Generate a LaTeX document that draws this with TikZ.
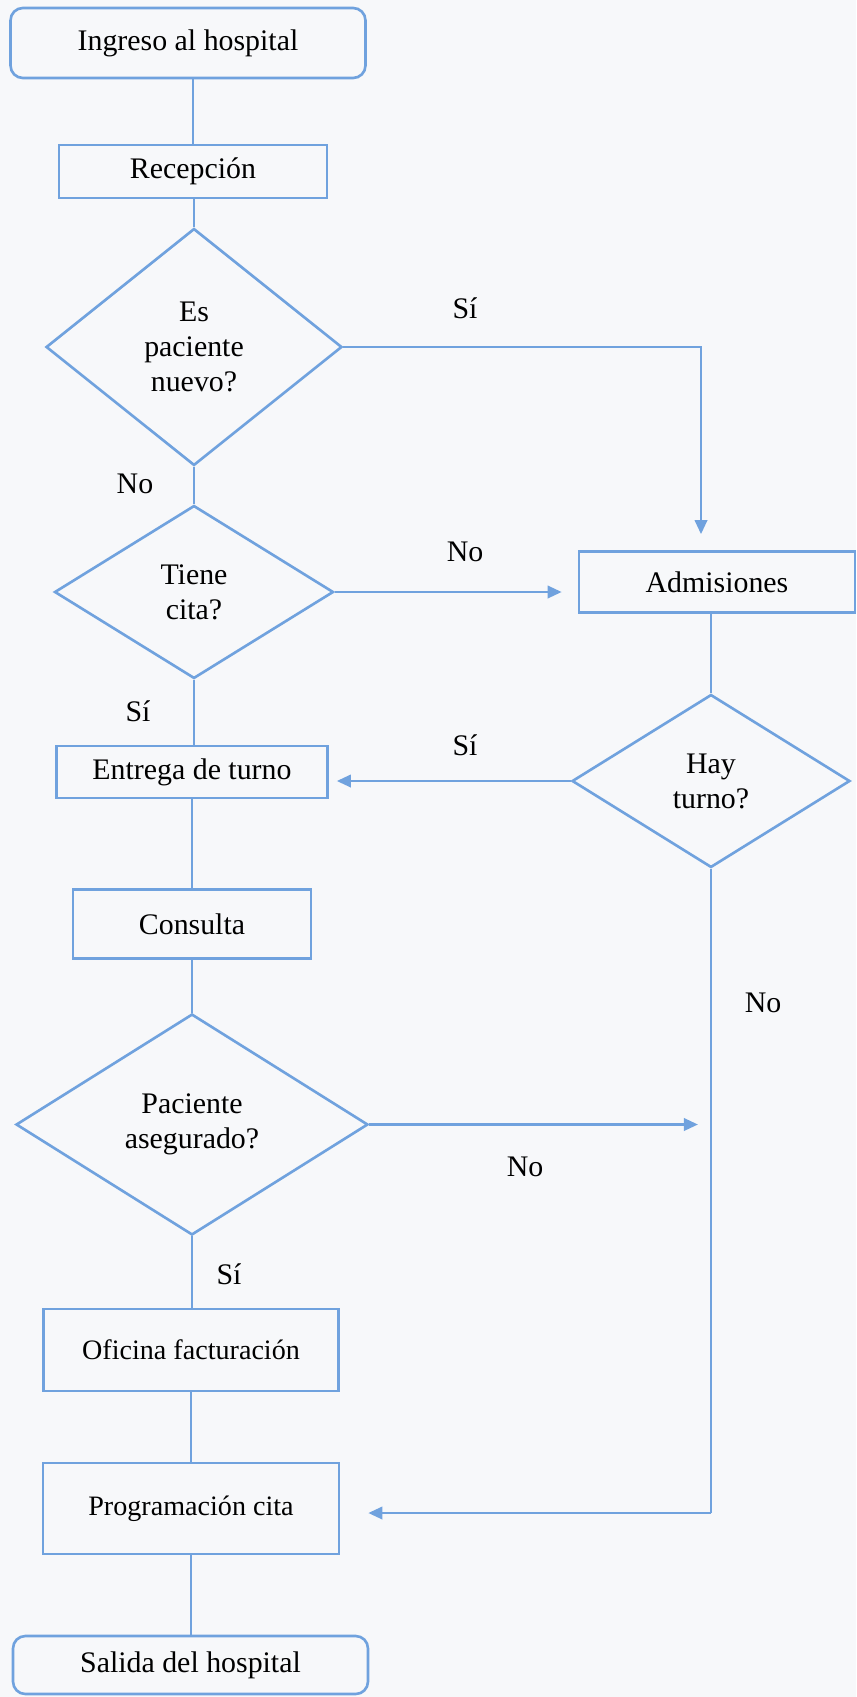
\documentclass[tikz,border=0pt]{standalone}
\usepackage{fontspec}
\setmainfont{Liberation Serif}
\usetikzlibrary{shapes.geometric, arrows.meta}

\definecolor{azul}{RGB}{112,162,222}
\definecolor{fondo}{RGB}{247,248,250}

\tikzset{
  base/.style={draw=azul, line width=1.5pt, inner sep=0pt, align=center,
    font=\fontsize{17}{20}\selectfont},
  caja/.style={base, rectangle},
  extremo/.style={base, rectangle, rounded corners=7pt},
  decision/.style={base, diamond},
  etiqueta/.style={font=\fontsize{17}{20}\selectfont},
  linea/.style={azul, line width=0.8pt},
  flecha/.style={azul, line width=1.5pt, -{Triangle[length=8pt, width=7pt]}}
}

\begin{document}
\begin{tikzpicture}[x=0.02cm, y=-0.02cm]
\path[use as bounding box, fill=fondo] (0,0) rectangle (856,1697);

% columna izquierda
\node[extremo, minimum width=7.1cm, minimum height=1.4cm] (ingreso) at (188,43) {Ingreso al hospital};
\node[caja, minimum width=5.36cm, minimum height=1.06cm] (recep) at (193,171.5) {Recepción};
\node[decision, minimum width=5.92cm, minimum height=4.74cm] (nuevo) at (194,347) {Es\\paciente\\nuevo?};
\node[decision, minimum width=5.58cm, minimum height=3.46cm] (cita) at (194,592) {Tiene\\cita?};
\node[caja, minimum width=5.42cm, minimum height=1.04cm] (entrega) at (192,772) {Entrega de turno};
\node[caja, minimum width=4.76cm, minimum height=1.38cm] (consulta) at (192,924) {Consulta};
\node[decision, minimum width=7.04cm, minimum height=4.42cm] (asegur) at (192,1124.5) {Paciente\\asegurado?};
\node[caja, minimum width=5.9cm, minimum height=1.64cm, font=\fontsize{16}{19}\selectfont] (factura) at (191,1350) {Oficina facturación};
\node[caja, minimum width=5.92cm, minimum height=1.82cm, font=\fontsize{16}{19}\selectfont] (progcita) at (191,1508.5) {Programación cita};
\node[extremo, minimum width=7.1cm, minimum height=1.16cm] (salida) at (190.5,1665) {Salida del hospital};

% columna derecha
\node[caja, minimum width=5.52cm, minimum height=1.22cm] (admis) at (717,582) {Admisiones};
\node[decision, minimum width=5.56cm, minimum height=3.46cm] (turno) at (711,781) {Hay\\turno?};

\coordinate (esq) at (701,347);
\coordinate (finno) at (698,1124.5);
\coordinate (baja) at (711,1513);

% lineas
\draw[linea] (ingreso.south -| recep.north) -- (recep.north);
\draw[linea] (recep.south -| nuevo.north) -- (nuevo.north);
\draw[linea] (nuevo.south) -- (cita.north);
\draw[linea] (cita.south) -- (cita.south |- entrega.north);
\draw[linea] (entrega.south) -- (consulta.north);
\draw[linea] (consulta.south) -- (asegur.north);
\draw[linea] (asegur.south) -- (asegur.south |- factura.north);
\draw[linea] (factura.south) -- (progcita.north);
\draw[linea] (progcita.south) -- (progcita.south |- salida.north);
\draw[linea] (admis.south -| turno.north) -- (turno.north);
\draw[linea] (turno.south) -- (baja);

% flechas
\draw[flecha, shorten >=0.32cm] (nuevo.east) -- (esq) -- (esq |- admis.north);
\draw[flecha, shorten >=0.32cm] (cita.east) -- (cita.east -| admis.west);
\draw[flecha, shorten >=0.16cm] (turno.west) -- (turno.west -| entrega.east);
\draw[flecha] (asegur.east) -- (finno);
\draw[flecha, shorten >=0.56cm] (baja) -- (baja -| progcita.east);

% etiquetas
\node[etiqueta] (si1) at (465,308) {Sí};
\node[etiqueta] (no1) at (135,484) {No};
\node[etiqueta] (no2) at (465,552) {No};
\node[etiqueta] (si2) at (138,711) {Sí};
\node[etiqueta] (si3) at (465,745) {Sí};
\node[etiqueta] (no3) at (763,1003) {No};
\node[etiqueta] (no4) at (525,1167) {No};
\node[etiqueta] (si4) at (229,1274) {Sí};
\end{tikzpicture}
\end{document}
